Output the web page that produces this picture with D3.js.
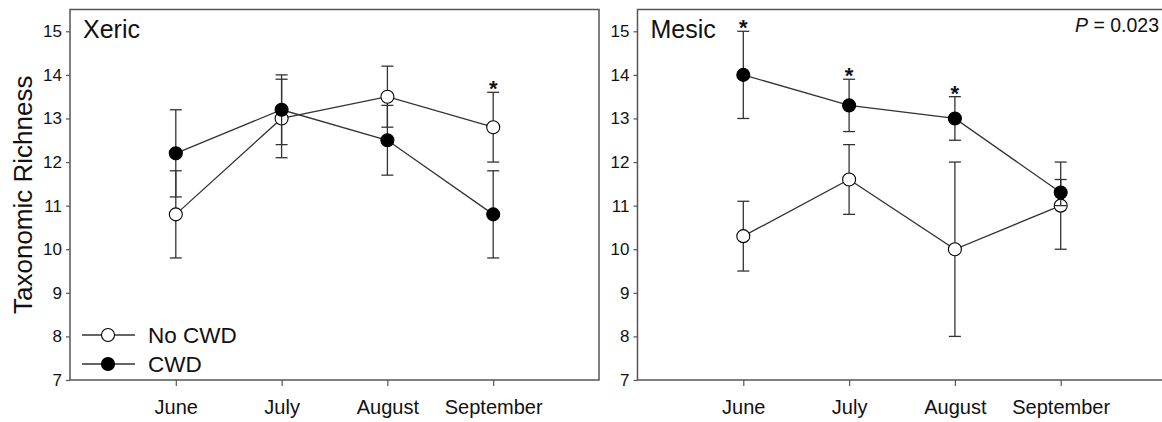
<!DOCTYPE html>
<html>
<head>
<meta charset="utf-8">
<script src="https://cdn.jsdelivr.net/npm/d3@7"></script>
<style>
  body { margin: 0; background: #fff; }
  svg { font-family: "Liberation Sans", Arial, sans-serif; }
</style>
</head>
<body>
<svg width="1162" height="422"></svg>
<script>
const svg = d3.select("svg");

// data
const months = ["June", "July", "August", "September"];
const yTicks = [7, 8, 9, 10, 11, 12, 13, 14, 15];

const xericNo = [10.8, 13.0, 13.5, 12.8];
const xericNoErr = [1.0, 0.9, 0.7, 0.8];
const xericCwd = [12.2, 13.2, 12.5, 10.8];
const xericCwdErr = [1.0, 0.8, 0.8, 1.0];
const xericStars = [false, false, false, true];

const mesicNo = [10.3, 11.6, 10.0, 11.0];
const mesicNoErr = [0.8, 0.8, 2.0, 1.0];
const mesicCwd = [14.0, 13.3, 13.0, 11.3];
const mesicCwdErr = [1.0, 0.6, 0.5, 0.3];
const mesicStars = [true, true, true, false];

const plotTop = 9.5, plotBottom = 380;
const y = d3.scaleLinear().domain([7, 15.5]).range([plotBottom, plotTop]);

const lineCol = "#333";
const frameCol = "#555";

function panel(left, title, noVals, noErr, cwdVals, cwdErr, stars, showLegend) {
  const x = d3.scaleLinear().domain([0, 5]).range([left, left + 529]);
  const g = svg.append("g");

  // frame
  g.append("rect")
    .attr("x", left).attr("y", plotTop)
    .attr("width", 529).attr("height", plotBottom - plotTop)
    .attr("fill", "none").attr("stroke", frameCol).attr("stroke-width", 1.5);

  // y axis
  const ya = g.append("g")
    .attr("transform", `translate(${left},0)`)
    .call(d3.axisLeft(y).tickValues(yTicks).tickSize(4).tickPadding(4));
  ya.select(".domain").remove();
  ya.selectAll(".tick line").attr("stroke", frameCol).attr("stroke-width", 1.2);
  ya.selectAll(".tick text").attr("font-size", 17).attr("fill", "#111")
    .attr("font-family", "Liberation Sans, Arial, sans-serif");

  // x axis
  const xa = g.append("g")
    .attr("transform", `translate(0,${plotBottom})`)
    .call(d3.axisBottom(x).tickValues([1, 2, 3, 4])
      .tickFormat((d) => months[d - 1]).tickSize(6).tickPadding(14));
  xa.select(".domain").remove();
  xa.selectAll(".tick line").attr("stroke", frameCol).attr("stroke-width", 1.2);
  xa.selectAll(".tick text").attr("font-size", 20).attr("fill", "#111")
    .attr("font-family", "Liberation Sans, Arial, sans-serif");

  g.append("text")
    .attr("x", left + 13).attr("y", 38)
    .attr("font-size", 25).attr("fill", "#111")
    .text(title);

  const line = d3.line().x((d, i) => x(i + 1)).y((d) => y(d));

  function errorBars(vals, errs) {
    vals.forEach((v, i) => {
      const cx = x(i + 1);
      const lo = y(v - errs[i]), hi = y(v + errs[i]);
      g.append("line").attr("x1", cx).attr("x2", cx).attr("y1", lo).attr("y2", hi)
        .attr("stroke", lineCol).attr("stroke-width", 1.3);
      [lo, hi].forEach((yy) => {
        g.append("line").attr("x1", cx - 6).attr("x2", cx + 6).attr("y1", yy).attr("y2", yy)
          .attr("stroke", lineCol).attr("stroke-width", 1.3);
      });
    });
  }

  function series(vals, errs, fill) {
    g.append("path").datum(vals)
      .attr("d", line).attr("fill", "none")
      .attr("stroke", lineCol).attr("stroke-width", 1.3);
    errorBars(vals, errs);
    g.selectAll(null).data(vals).join("circle")
      .attr("cx", (d, i) => x(i + 1)).attr("cy", (d) => y(d))
      .attr("r", 6.5).attr("fill", fill)
      .attr("stroke", "#000").attr("stroke-width", 1.1);
  }

  series(noVals, noErr, "#fff");
  series(cwdVals, cwdErr, "#000");

  // significance stars
  stars.forEach((s, i) => {
    if (!s) return;
    const hiVal = Math.max(noVals[i] + noErr[i], cwdVals[i] + cwdErr[i]);
    g.append("text")
      .attr("x", x(i + 1)).attr("y", y(hiVal) + 4)
      .attr("text-anchor", "middle").attr("font-size", 22).attr("font-weight", "bold")
      .attr("fill", "#111")
      .text("*");
  });

  if (showLegend) {
    const items = [["No CWD", "#fff", 335], ["CWD", "#000", 364]];
    items.forEach(([label, fill, yy]) => {
      g.append("line").attr("x1", 82).attr("x2", 135).attr("y1", yy).attr("y2", yy)
        .attr("stroke", lineCol).attr("stroke-width", 1.3);
      g.append("circle").attr("cx", 108).attr("cy", yy).attr("r", 6.5)
        .attr("fill", fill).attr("stroke", "#000").attr("stroke-width", 1.1);
      g.append("text").attr("x", 148).attr("y", yy).attr("dy", "0.35em")
        .attr("font-size", 22.5).attr("fill", "#111").text(label);
    });
  }
  return g;
}

panel(70, "Xeric", xericNo, xericNoErr, xericCwd, xericCwdErr, xericStars, true);
const right = panel(637.5, "Mesic", mesicNo, mesicNoErr, mesicCwd, mesicCwdErr, mesicStars, false);

const p = right.append("text")
  .attr("x", 1159).attr("y", 32)
  .attr("text-anchor", "end").attr("font-size", 19.5).attr("fill", "#111");
p.append("tspan").attr("font-style", "italic").text("P");
p.append("tspan").text(" = 0.023");

// y axis title
svg.append("text")
  .attr("transform", `translate(32,${(plotTop + plotBottom) / 2}) rotate(-90)`)
  .attr("text-anchor", "middle")
  .attr("font-size", 26).attr("fill", "#111")
  .text("Taxonomic Richness");
</script>
</body>
</html>
